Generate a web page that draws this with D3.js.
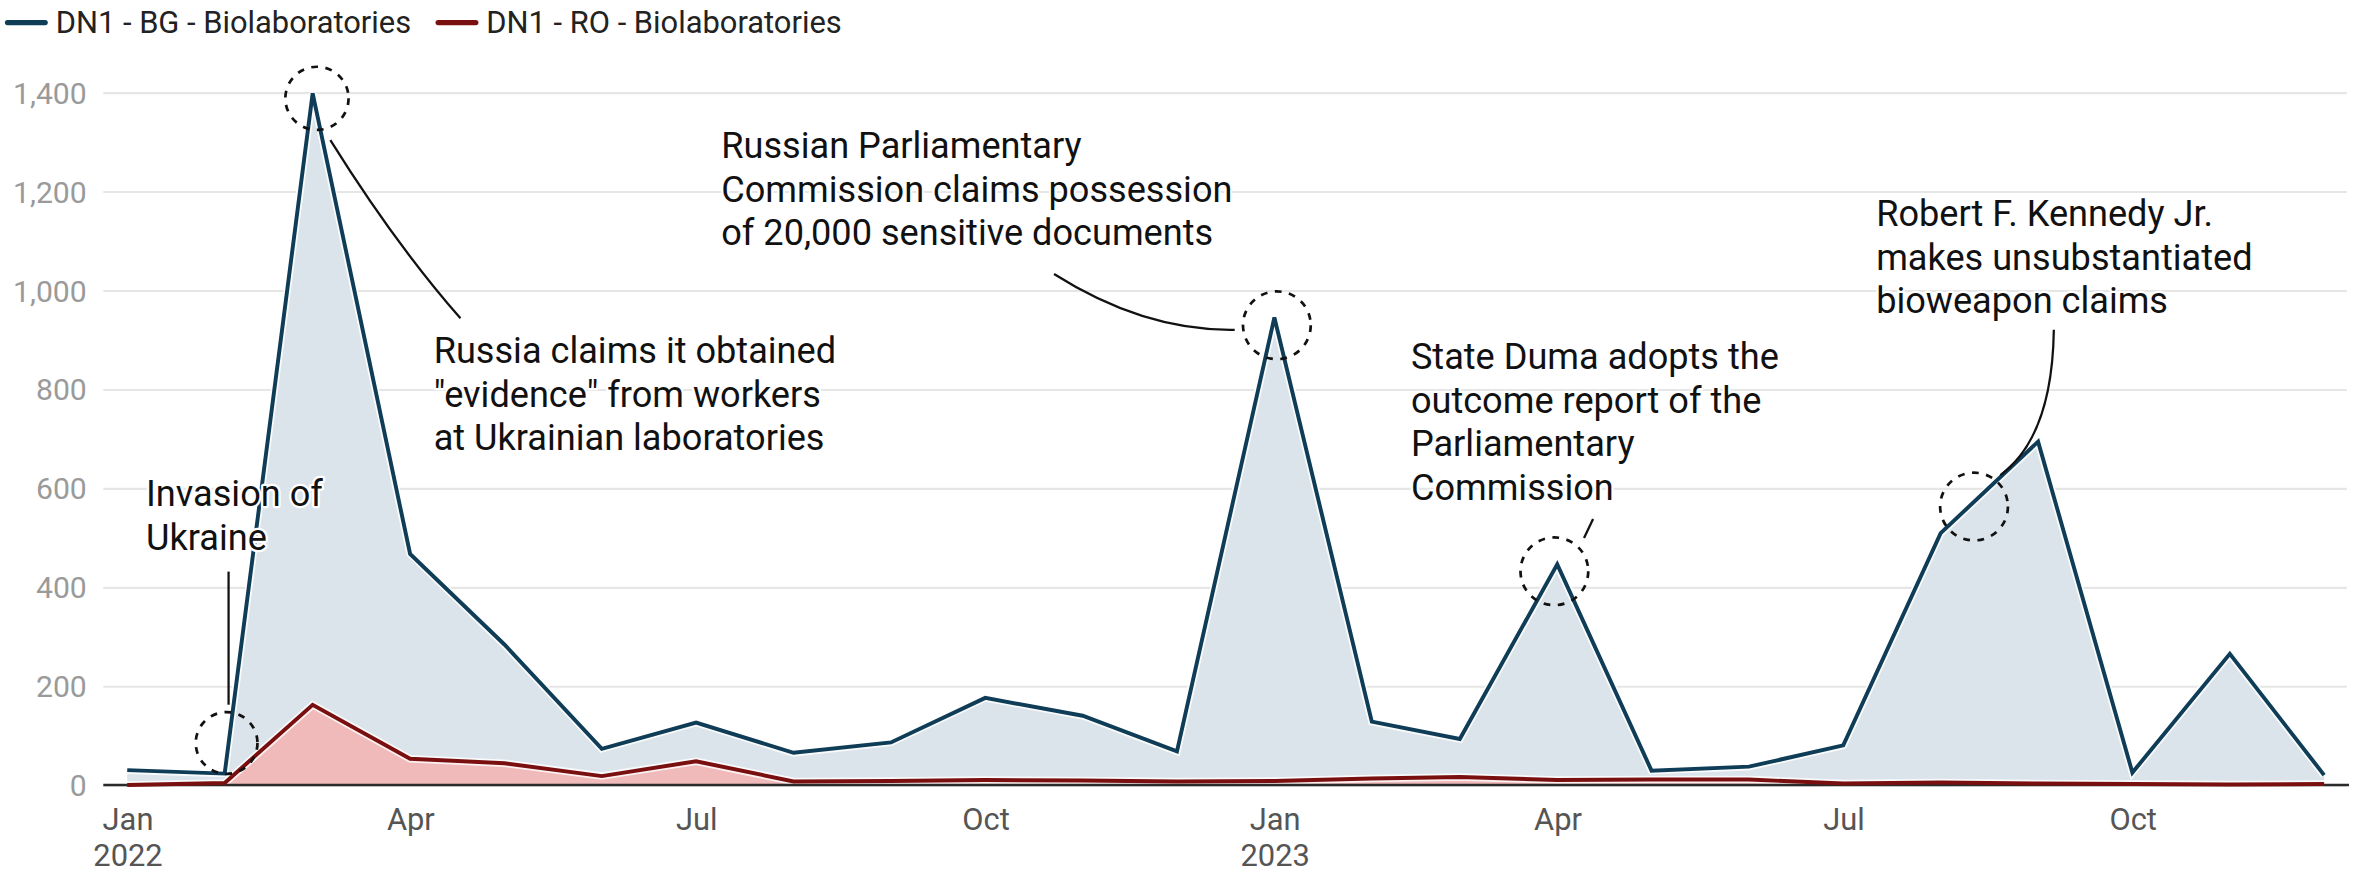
<!DOCTYPE html>
<html>
<head>
<meta charset="utf-8">
<script src="https://cdn.jsdelivr.net/npm/d3@7"></script>
<style>
  html, body { margin: 0; padding: 0; background: #fff; }
  svg { display: block; font-family: Roboto, "Noto Sans", sans-serif; }
</style>
</head>
<body>
<svg id="chart" width="2361" height="874" viewBox="0 0 1568 580.4"></svg>
<script>
// monthly categories
var months = ["2022-01","2022-02","2022-03","2022-04","2022-05","2022-06",
              "2022-07","2022-08","2022-09","2022-10","2022-11","2022-12",
              "2023-01","2023-02","2023-03","2023-04","2023-05","2023-06",
              "2023-07","2023-08","2023-09","2023-10","2023-11","2023-12"];
// DN1 - BG - Biolaboratories
var bgValues = [30, 23, 1398, 467, 284, 73, 126, 65, 86, 176, 140, 68,
                945, 128, 93, 446, 29, 37, 80, 509, 694, 25, 265, 20];
// DN1 - RO - Biolaboratories
var roValues = [0, 4, 162, 53, 44, 18, 48, 7, 8, 10, 9, 7,
                8, 13, 16, 10, 11, 11, 3, 5, 3, 2, 1, 2];
var seriesNames = ["DN1 - BG - Biolaboratories", "DN1 - RO - Biolaboratories"];
var yTicks = [0, 200, 400, 600, 800, 1000, 1200, 1400];
var xTickLabels = ["2022-01", "2022-04", "2022-07", "2022-10", "2023-01", "2023-04", "2023-07", "2023-10"];

var parse = d3.timeParse("%Y-%m");
var bg = months.map(function(m, i) { return {date: parse(m), value: bgValues[i]}; });
var ro = months.map(function(m, i) { return {date: parse(m), value: roValues[i]}; });

var svg = d3.select("#chart");

//scales
var x = d3.scaleTime().domain([parse("2022-01"), parse("2023-12")]).range([84.5, 1543.5]);
var y = d3.scaleLinear().domain([0, 1400]).range([521.3, 61.3]);

//gridlines + y labels
var yAxis = svg.append("g").attr("transform", "translate(68.6,0)")
    .call(d3.axisRight(y).tickValues(yTicks).tickSize(1490).tickFormat(d3.format(",")));
yAxis.select(".domain").remove();
yAxis.selectAll(".tick line").attr("stroke", "#e6e6e6").attr("stroke-width", 1.4);
yAxis.selectAll(".tick text")
    .attr("x", -11).attr("text-anchor", "end").attr("dy", "0.35em")
    .attr("fill", "#9a9a9a").attr("font-size", 20).attr("font-family", "Roboto");

//areas and lines
var area = d3.area().x(function(d) { return x(d.date); }).y0(y(0)).y1(function(d) { return y(d.value); });
var line = d3.line().x(function(d) { return x(d.date); }).y(function(d) { return y(d.value); });

svg.append("path").attr("d", area(bg)).attr("fill", "#dbe4ea");
svg.append("path").attr("d", area(ro)).attr("fill", "#f0baba");

[[bg, "#0f3d57"], [ro, "#7a0f10"]].forEach(function(s) {
    svg.append("path").attr("d", line(s[0])).attr("fill", "none")
        .attr("stroke", "#fff").attr("stroke-width", 5).attr("stroke-opacity", 0.8)
        .attr("stroke-linejoin", "miter");
});

//x axis baseline
svg.append("line").attr("x1", 68.6).attr("x2", 1560).attr("y1", y(0)).attr("y2", y(0))
    .attr("stroke", "#2a2a2a").attr("stroke-width", 1.6);

[[bg, "#0f3d57"], [ro, "#7a0f10"]].forEach(function(s) {
    svg.append("path").attr("d", line(s[0])).attr("fill", "none")
        .attr("stroke", s[1]).attr("stroke-width", 2.6)
        .attr("stroke-linejoin", "miter");
});

//x tick labels
var xAxis = svg.append("g").attr("transform", "translate(0," + y(0) + ")")
    .call(d3.axisBottom(x).tickValues(xTickLabels.map(parse)).tickSize(0).tickFormat(d3.timeFormat("%b")));
xAxis.select(".domain").remove();
xAxis.selectAll(".tick text").attr("dy", 0).attr("y", 30)
    .attr("fill", "#555").attr("font-size", 20.5).attr("font-family", "Roboto");
xAxis.selectAll(".tick").filter(function(d) { return d.getMonth() == 0; })
    .append("text").attr("y", 54).attr("text-anchor", "middle")
    .attr("fill", "#555").attr("font-size", 20.5).attr("font-family", "Roboto")
    .text(function(d) { return d.getFullYear(); });

//legend
var legendColors = ["#0f3d57", "#7a0f10"];
var legendX = [5, 291];
seriesNames.forEach(function(name, i) {
    var g = svg.append("g").attr("transform", "translate(" + legendX[i] + ",15)");
    g.append("line").attr("x1", 0).attr("x2", 25).attr("stroke", legendColors[i])
        .attr("stroke-width", 3.5).attr("stroke-linecap", "round");
    g.append("text").attr("x", 32).attr("dy", "0.35em").attr("font-size", 20.5)
        .attr("fill", "#222").text(name);
});

//annotations (layout in px)
var annotations = [
    {lines: ["Invasion of", "Ukraine"], tx: 97, ty: 336,
     circle: [150.5, 493.4, 20.5], path: "M151.8,379.6 L151.8,468"},
    {lines: ["Russia claims it obtained", "\"evidence\" from workers", "at Ukrainian laboratories"], tx: 288, ty: 241,
     circle: [210.5, 65.3, 21], path: "M219.4,93 Q262.6,162.2 305.8,211.4"},
    {lines: ["Russian Parliamentary", "Commission claims possession", "of 20,000 sensitive documents"], tx: 479, ty: 105,
     circle: [848, 216, 22.5], path: "M700,182 Q760,220 820,219"},
    {lines: ["State Duma adopts the", "outcome report of the", "Parliamentary", "Commission"], tx: 937, ty: 245,
     circle: [1032.3, 379.4, 22.5], path: "M1058,344.6 L1052,357.3"},
    {lines: ["Robert F. Kennedy Jr.", "makes unsubstantiated", "bioweapon claims"], tx: 1246, ty: 150,
     circle: [1311, 336.4, 22.5], path: "M1364,219 Q1363,290 1328.5,315.5"}
];
var ann = svg.append("g");
annotations.forEach(function(a) {
    ann.append("circle").attr("cx", a.circle[0]).attr("cy", a.circle[1]).attr("r", a.circle[2])
        .attr("fill", "none").attr("stroke", "#111").attr("stroke-width", 1.8)
        .attr("stroke-dasharray", "4.5,5");
    ann.append("path").attr("d", a.path).attr("fill", "none")
        .attr("stroke", "#111").attr("stroke-width", 1.5);
    var t = ann.append("text").attr("x", a.tx).attr("y", a.ty)
        .attr("font-size", 24).attr("fill", "#111")
        .attr("stroke", "#fff").attr("stroke-width", 3).attr("paint-order", "stroke")
        .attr("stroke-linejoin", "round");
    a.lines.forEach(function(l, i) {
        t.append("tspan").attr("x", a.tx).attr("dy", i == 0 ? 0 : 29).text(l);
    });
});
</script>
</body>
</html>
